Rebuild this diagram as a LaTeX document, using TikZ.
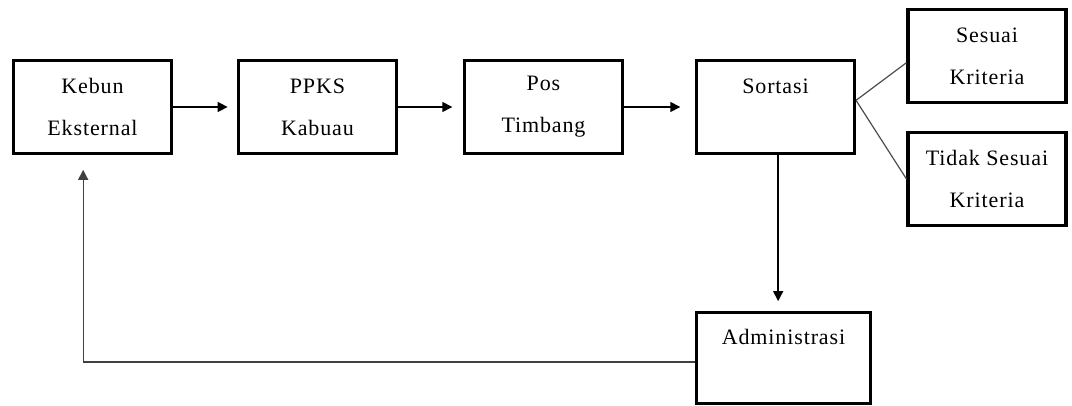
\documentclass[tikz,border=0pt]{standalone}
\usepackage{fontspec}
\setmainfont{Liberation Serif}[LetterSpace=4]
\usetikzlibrary{arrows.meta}
\tikzset{
	kotak/.style={draw, line width=2.3pt, minimum width=118.5pt, minimum height=70pt, inner sep=0pt, align=center, font=\fontsize{16.5}{31.5}\selectfont},
	panah/.style={line width=1.1pt, -{Triangle[length=7.5pt,width=7.5pt]}},
	cabang/.style={line width=0.9pt, draw=black!70}
}
\begin{document}
\begin{tikzpicture}[x=0.75pt, y=-0.75pt, line join=miter]
	\useasboundingbox (0,0) rectangle (1072,406);
	% alur utama
	\node[kotak] (kebun) at (92.5,107) {Kebun\\Eksternal};
	\node[kotak] (ppks) at (317.5,107) {PPKS\\Kabuau};
	\node[kotak] (pos) at (543.5,107) {Pos\\Timbang};
	\node[kotak] (sortasi) at (775.5,107) {Sortasi\\~};
	% hasil sortasi
	\node[kotak] (sesuai) at (987,56) {Sesuai\\Kriteria};
	\node[kotak] (tidak) at (987,179) {Tidak Sesuai\\Kriteria};
	\node[kotak, minimum width=130.5pt, minimum height=68pt] (admin) at (783.5,358) {Administrasi\\~};
	\draw[panah, shorten >=7pt] (kebun) -- (ppks);
	\draw[panah, shorten >=8pt] (ppks) -- (pos);
	\draw[panah, shorten >=11pt] (pos) -- (sortasi);
	\draw[cabang] ([yshift=5pt]sortasi.east) -- ([yshift=-5pt]sesuai.west);
	\draw[cabang] ([yshift=5pt]sortasi.east) -- (tidak.west);
	\draw[panah, shorten >=7.5pt] ([xshift=2pt]sortasi.south) -- ([xshift=2pt]sortasi.south |- admin.north);
	\draw[panah, line width=1pt, draw=black!75, shorten >=11pt] ([yshift=-3pt]admin.west) -| ([xshift=-7pt]kebun.south);
\end{tikzpicture}
\end{document}
